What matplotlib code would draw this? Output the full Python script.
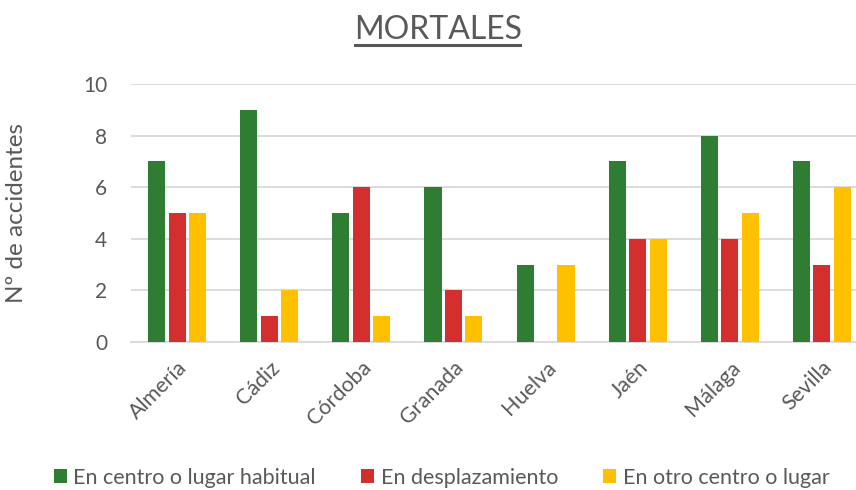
import matplotlib.pyplot as plt
import numpy as np
from matplotlib.lines import Line2D

provincias = ["Almería", "Cádiz", "Córdoba", "Granada", "Huelva", "Jaén", "Málaga", "Sevilla"]
habitual = [7, 9, 5, 6, 3, 7, 8, 7]
desplazamiento = [5, 1, 6, 2, 0, 4, 4, 3]
otro_centro = [5, 2, 1, 1, 3, 4, 5, 6]
series_names = ["En centro o lugar habitual", "En desplazamiento", "En otro centro o lugar"]
colors = ["#2E7D32", "#D32F2F", "#FFC000"]

plt.rcParams["font.family"] = ["Lato", "DejaVu Sans"]
text_color = "#595959"

fig = plt.figure(figsize=(8.56, 4.9), dpi=100)
# category axis is slightly wider than the picture (cropped on the right)
ax = fig.add_axes([131 / 856, 1 - 342 / 490, 737 / 856, (342 - 84) / 490])

x = np.arange(len(provincias))
w = 0.185
step = 0.222
for i, (vals, name, c) in enumerate(zip([habitual, desplazamiento, otro_centro], series_names, colors)):
    ax.bar(x + (i - 1) * step, vals, width=w, color=c, label=name, zorder=3)

ax.set_xlim(-0.5, len(provincias) - 0.5)
ax.set_ylim(0, 10)
ax.set_yticks(range(0, 11, 2))
ax.yaxis.grid(True, color="#D9D9D9", linewidth=1.3, zorder=0)
for s in ["top", "right", "left"]:
    ax.spines[s].set_visible(False)
ax.spines["bottom"].set_color("#D9D9D9")
ax.spines["bottom"].set_linewidth(1.3)
ax.tick_params(axis="both", length=0, colors=text_color, labelsize=15)
ax.tick_params(axis="y", pad=17)
ax.tick_params(axis="x", pad=11, labelsize=15.5)
ax.set_xticks(x)
ax.set_xticklabels(provincias, rotation=45, ha="right", rotation_mode="anchor")
ax.set_ylabel("Nº de accidentes", fontsize=17.5, color=text_color)
ax.yaxis.set_label_coords(-104 / 737, 0.5)

fig.text(438 / 856, 1 - 30 / 490, "MORTALES", ha="center", va="center", fontsize=23, color=text_color)
fig.add_artist(Line2D([355 / 856, 520 / 856], [1 - 45.5 / 490, 1 - 45.5 / 490], color=text_color, linewidth=2.2))

fig.legend(loc="center", bbox_to_anchor=(0.516, 0.025), ncol=3, frameon=False,
           fontsize=15.5, labelcolor=text_color, handlelength=0.6, handleheight=0.6,
           handletextpad=0.3, columnspacing=2.1)

fig.savefig("out.png", dpi=100)
